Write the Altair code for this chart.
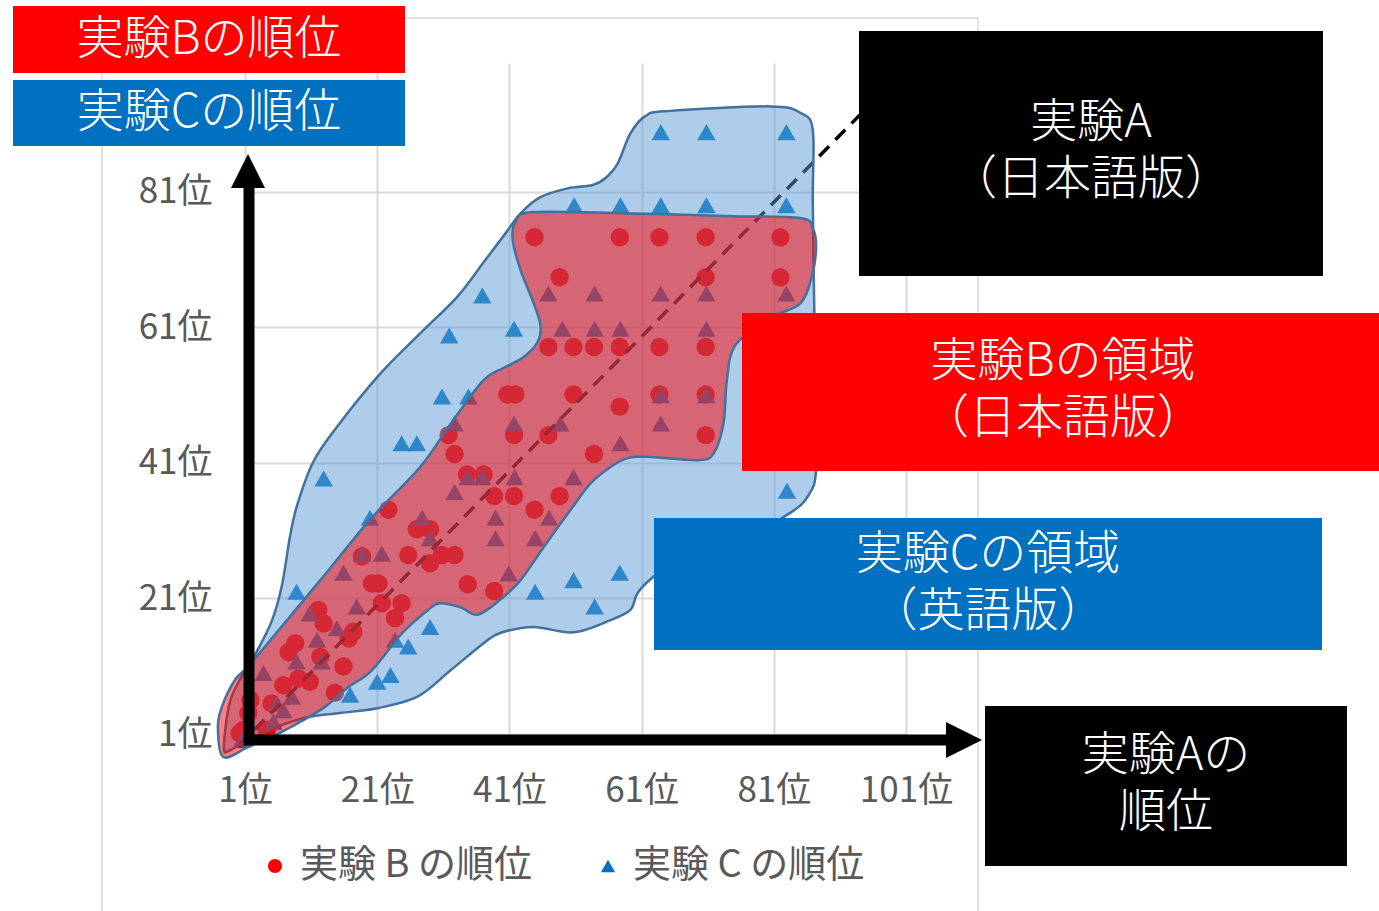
import altair as alt
import pandas as pd

FONT = "Noto Sans CJK JP"
GRAY = "#595959"

# 実験Aの順位 (x) と 実験Bの順位 (y)
b_rank_a = [44.8, 57.7, 63.7, 70.7, 82.0,
            48.6, 70.7, 82.0,
            46.9, 50.7, 53.8, 57.7, 63.7, 70.7,
            40.7, 41.9, 50.7, 63.7, 70.7,
            57.7,
            31.8, 41.7, 46.9, 70.7,
            32.7, 53.8,
            34.6, 37.1,
            38.7, 41.7, 48.6,
            22.7, 44.8,
            27.0, 29.0,
            18.7, 25.7, 30.8, 32.7,
            29.0,
            20.2, 21.2, 34.7,
            38.7,
            21.7, 24.7,
            23.7,
            12.1, 12.9,
            16.7, 17.4,
            8.6, 7.6,
            12.4,
            15.9,
            9.1, 10.8,
            6.8,
            14.6,
            1.8, 5.0,
            1.5,
            0.7, 4.3,
            0.2]
b_rank_b = [74.3, 74.3, 74.3, 74.3, 74.3,
            68.4, 68.4, 68.4,
            58.1, 58.1, 58.1, 58.1, 58.1, 58.1,
            51.1, 51.1, 51.1, 51.1, 51.1,
            49.3,
            45.1, 45.1, 45.1, 45.1,
            42.3, 42.3,
            39.3, 39.3,
            36.1, 36.1, 36.1,
            34.1, 34.1,
            31.2, 31.2,
            27.2, 27.4, 27.4, 27.4,
            26.2,
            23.2, 23.2, 23.1,
            22.1,
            20.3, 20.3,
            18.1,
            19.3, 17.3,
            15.1, 16.1,
            14.4, 13.1,
            12.4,
            11.0,
            9.2, 8.7,
            8.2,
            7.1,
            6.0, 5.5,
            4.1,
            1.6, 1.6,
            1.1]

# 実験Aの順位 (x) と 実験Cの順位 (y)
c_rank_a = [63.9, 70.8, 82.9,
            50.8, 57.8, 63.9, 70.8, 82.9,
            46.9, 53.9, 63.9, 70.8, 82.9, 36.9,
            41.7, 49.0, 53.9, 57.8, 70.8, 31.9,
            63.9, 70.8, 30.8, 34.8,
            32.7, 41.7, 48.7, 63.9,
            57.8, 24.7, 27.0,
            34.7, 36.9, 41.8, 50.7, 12.9,
            32.7, 83.0,
            19.9, 27.8, 38.9, 47.0,
            29.0, 38.9, 44.9,
            18.7, 21.7,
            15.9, 40.9, 57.7,
            50.7, 44.9, 8.8,
            53.9, 17.9,
            10.8,
            14.9, 29.0,
            11.9, 23.7,
            25.7,
            8.8, 12.6,
            21.0, 23.0,
            3.8,
            16.9,
            8.1,
            5.8,
            6.8,
            5.3,
            0.5]
c_rank_c = [89.8, 89.8, 89.8,
            79.0, 79.0, 79.0, 79.0, 79.0,
            66.0, 66.0, 66.0, 66.0, 66.0, 65.7,
            60.8, 60.8, 60.8, 60.8, 60.8, 59.8,
            51.0, 51.0, 50.8, 50.8,
            46.8, 46.8, 46.8, 46.8,
            43.9, 43.9, 43.9,
            38.9, 38.9, 38.9, 38.9, 38.7,
            36.7, 36.9,
            32.9, 32.9, 32.9, 32.9,
            29.9, 29.9, 29.9,
            27.6, 27.6,
            24.8, 24.7, 24.8,
            23.7, 22.0, 22.0,
            19.8, 19.8,
            18.8,
            16.6, 16.8,
            14.9, 14.9,
            13.9,
            11.7, 11.7,
            8.7, 9.7,
            10.0,
            6.8,
            6.5,
            5.5,
            4.5,
            2.8,
            0.1]

# 実験B（日本語版）の領域の輪郭
region_b_a = [-2.3, -3.1, -2.5, -0.5, 1.5, 3.0, 12.4, 19.9, 27.5, 32.5, 37.1, 40.1,
              43.0, 45.2, 45.7, 44.5, 42.7, 41.5, 41.9, 44.6, 59.8, 74.9, 85.1, 86.9,
              87.4, 86.9, 85.1, 80.5, 75.2, 73.9, 73.4, 71.9, 69.5, 61.9, 58.9, 56.3,
              53.3, 50.2, 46.2, 42.7, 39.6, 36.2, 33.6, 30.5, 28.7, 24.8, 20.2, 16.6,
              13.1, 9.0, 5.1, 1.5]
region_b_r = [-2.4, 2.0, 5.0, 9.0, 10.9, 12.7, 23.7, 32.6, 40.4, 47.3, 53.2, 55.0,
              56.5, 58.7, 61.3, 65.0, 69.4, 73.9, 76.5, 78.0, 77.8, 77.4, 77.1, 75.6,
              73.1, 69.1, 64.6, 62.4, 58.4, 53.2, 46.9, 42.4, 41.4, 41.9, 41.7, 40.4,
              38.0, 34.0, 28.6, 23.7, 20.8, 18.6, 19.7, 20.3, 19.3, 15.9, 10.4, 7.9,
              5.0, 2.6, 0.6, -0.9]

# 実験C（英語版）の領域の輪郭
region_c_a = [-2.2, -1.4, 0.2, 2.8, 5.1, 6.6, 7.8, 8.9, 11.3, 14.9, 21.5, 27.5,
              33.1, 37.1, 39.9, 42.7, 45.7, 49.8, 53.6, 55.5, 57.4, 59.3, 61.6, 64.9,
              80.5, 85.1, 86.9, 86.9, 87.1, 87.4, 87.4, 86.3, 83.6, 76.0, 66.9, 62.8,
              60.4, 59.3, 56.3, 50.7, 44.6, 39.6, 37.1, 32.1, 27.1, 21.0, 15.4, 10.1,
              5.5, 1.0, -1.3]
region_c_r = [-1.1, 5.3, 9.0, 13.2, 17.8, 23.0, 30.1, 34.8, 41.1, 46.3, 54.2, 60.1,
              65.5, 70.6, 74.2, 77.8, 80.2, 81.5, 82.0, 83.0, 85.2, 89.6, 92.2, 92.9,
              93.6, 92.6, 90.1, 79.8, 65.0, 50.3, 39.9, 36.3, 33.7, 29.6, 26.7, 24.2,
              21.8, 19.3, 17.8, 16.0, 16.8, 15.9, 14.4, 10.4, 6.5, 4.8, 4.1, 3.4,
              1.9, -0.2, -1.4]

# 順位が一致する対角線
diag_a = [0.0, 96.0]
diag_r = [-0.8, 94.3]

x_ticks = [1, 21, 41, 61, 81, 101]
y_ticks = [1, 21, 41, 61, 81]
series = ["実験 B の順位", "実験 C の順位"]

# plot area placement on the page (pixels)
OX, OY = 245, 63
W, H = 661, 671
PAGE_W, PAGE_H = 1379, 911

points_df = pd.DataFrame({
    "a": b_rank_a + c_rank_a,
    "r": b_rank_b + c_rank_c,
    "series": [series[0]] * len(b_rank_a) + [series[1]] * len(c_rank_a),
})
region_b_df = pd.DataFrame({"a": region_b_a, "r": region_b_r, "i": range(len(region_b_a))})
region_c_df = pd.DataFrame({"a": region_c_a, "r": region_c_r, "i": range(len(region_c_a))})
diag_df = pd.DataFrame({"a": diag_a, "r": diag_r})
one = pd.DataFrame({"k": [0]})

x_scale = alt.Scale(domain=[1, 101], nice=False, zero=False)
y_scale = alt.Scale(domain=[1, 100], nice=False, zero=False)
x_enc = alt.X("a:Q", scale=x_scale,
              axis=alt.Axis(values=x_ticks, labelExpr="datum.value + '位'",
                            labelPadding=39, labelFlush=False, title=None))
y_enc = alt.Y("r:Q", scale=y_scale,
              axis=alt.Axis(values=y_ticks, labelExpr="datum.value + '位'",
                            labelPadding=33, title=None))

TRIANGLE = "M0,-0.87L1,0.87L-1,0.87Z"

legend = alt.Legend(title=None, orient="none", legendX=11, legendY=784,
                    direction="horizontal", labelFont=FONT, labelFontSize=38,
                    labelColor=GRAY, labelLimit=0, symbolSize=200, symbolStrokeWidth=0,
                    symbolOpacity=1, labelOffset=6, columnPadding=57)

points = alt.Chart(points_df).mark_point(filled=True, size=340, opacity=1, strokeWidth=0).encode(
    x=x_enc, y=y_enc,
    color=alt.Color("series:N", scale=alt.Scale(domain=series, range=["#ff0000", "#0070c0"]), legend=legend),
    shape=alt.Shape("series:N", scale=alt.Scale(domain=series, range=["circle", TRIANGLE]), legend=legend),
)

diagonal = alt.Chart(diag_df).mark_line(color="black", strokeWidth=3.5, strokeDash=[14, 9]).encode(
    x=x_enc, y=y_enc)


def region(df, fill):
    return alt.Chart(df).mark_line(
        interpolate="cardinal-closed", fill=fill, fillOpacity=0.5,
        stroke="#41719c", strokeWidth=2.5,
    ).encode(x=x_enc, y=y_enc, order="i:Q")


region_c = region(region_c_df, "#5b9bd5")
region_b = region(region_b_df, "#ff0000")


def px(v):
    return alt.value(v - OX)


def py(v):
    return alt.value(v - OY)


# outer frame of the chart
frame = alt.Chart(one).mark_rect(fill="transparent", stroke="#d9d9d9", strokeWidth=1.5).encode(
    x=px(102), x2=px(978), y=py(18), y2=py(930))

# axis arrows
v_shaft = alt.Chart(one).mark_rule(color="black", strokeWidth=11, strokeCap="butt").encode(
    x=px(249), y=py(186), y2=py(745))
h_shaft = alt.Chart(one).mark_rule(color="black", strokeWidth=11, strokeCap="butt").encode(
    x=px(244), x2=px(948), y=py(740))
v_head = alt.Chart(one).mark_point(shape="M0,-1L1,1L-1,1Z", size=34 * 34, filled=True,
                                   color="black", opacity=1, strokeWidth=0).encode(
    x=px(248), y=py(171))
h_head = alt.Chart(one).mark_point(shape="M1,0L-1,-1L-1,1Z", size=36 * 36, filled=True,
                                   color="black", opacity=1, strokeWidth=0).encode(
    x=px(964), y=py(740))


def box(x0, y0, x1, y1, color):
    return alt.Chart(one).mark_rect(color=color, opacity=1).encode(
        x=px(x0), x2=px(x1), y=py(y0), y2=py(y1))


def label(lines, x, y, size=47, line_height=57):
    # y is the centre of the first line
    return alt.Chart(one).mark_text(
        text=lines, font=FONT, fontSize=size, fontWeight=300, color="white",
        lineHeight=line_height, align="center", baseline="middle").encode(x=px(x), y=py(y))


notes = [
    box(13, 6, 405, 73, "#ff0000"), label("実験Bの順位", 209, 40),
    box(13, 80, 405, 146, "#0070c0"), label("実験Cの順位", 209, 113),
    box(859, 31, 1323, 276, "#000000"),
    label(["実験A", "（日本語版）"], 1091, 123),
    box(742, 313, 1379, 471, "#ff0000"),
    label(["実験Bの領域", "（日本語版）"], 1063, 362),
    box(654, 518, 1322, 650, "#0070c0"),
    label(["実験Cの領域", "（英語版）"], 988, 555),
    box(985, 706, 1347, 866, "#000000"),
    label(["実験Aの", "順位"], 1166, 756),
]

chart = alt.layer(
    frame, points, diagonal, region_c, region_b,
    v_shaft, h_shaft, v_head, h_head, *notes,
).properties(
    width=W, height=H,
    autosize=alt.AutoSizeParams(type="none"),
    padding={"left": OX, "top": OY, "right": PAGE_W - OX - W, "bottom": PAGE_H - OY - H},
).configure_view(
    stroke=None,
).configure_axis(
    domain=False, ticks=False, grid=True, gridColor="#d9d9d9", gridWidth=2,
    labelFont=FONT, labelFontSize=35, labelColor=GRAY,
)

chart.save("out.html", embed_options={"renderer": "svg", "actions": False})
